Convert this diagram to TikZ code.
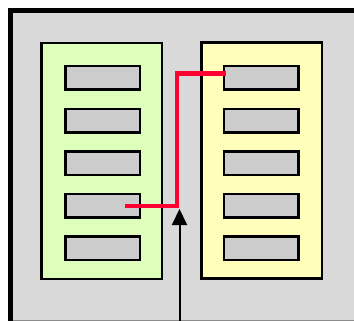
\documentclass[tikz,border=0pt]{standalone}
\usepackage{tikz}
\usetikzlibrary{arrows.meta,positioning,calc}
\definecolor{framegray}{HTML}{D9D9D9}
\definecolor{slotgray}{HTML}{CCCCCC}
\definecolor{leafgreen}{HTML}{DDFFBB}
\definecolor{paleyellow}{HTML}{FFFFBB}
\definecolor{wirered}{HTML}{FF0033}
\tikzstyle{rack}=[draw,line width=2.5pt,minimum width=120.5pt,minimum height=235.5pt,inner sep=0pt]
\tikzstyle{slot}=[draw,fill=slotgray,line width=2.5pt,minimum width=74.5pt,minimum height=23.5pt,inner sep=0pt]
\tikzstyle{redwire}=[draw=wirered,line width=4.5pt]
\tikzstyle{feed}=[line width=2pt,-{Triangle[width=15pt,length=16pt]}]

\begin{document}
\begin{tikzpicture}[x=1pt,y=-1pt]
    \useasboundingbox (0,0) rectangle (354,321);
    % outer frame, cut off at the right and bottom
    \fill[framegray] (10.5,10.5) rectangle (354,320);
    \draw[black!45,line width=1pt] (10.5,320) -- (354,320);
    \draw[line width=4.5pt] (10.5,321) -- (10.5,10.5) -- (354,10.5);
    % the two racks
    \node [rack,fill=leafgreen] (leftrack) at (101.5,161) {};
    \node [rack,fill=paleyellow] (rightrack) at (261.5,160.5) {};
    \foreach \i in {1,...,5} {
      \node [slot] (left\i) at (102.5,{78+42.6*(\i-1)}) {};
      \node [slot] (right\i) at (261,{78+42.6*(\i-1)}) {};
    }
    % connectors
    \coordinate (feedin) at (179.5,321);
    \draw [feed] (feedin) -- (179.5,209);
    \draw [redwire] ([xshift=-16pt]left4.east) -- ++(52,0)
      |- ([xshift=3pt,yshift=4.5pt]right1.west);
\end{tikzpicture}
\end{document}
